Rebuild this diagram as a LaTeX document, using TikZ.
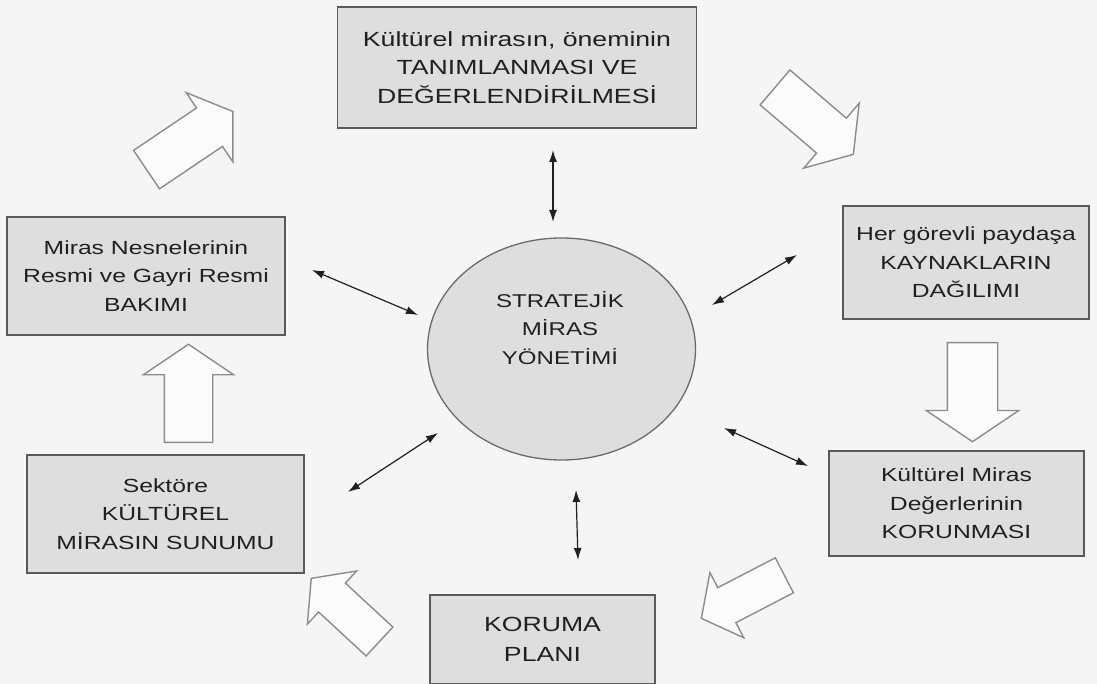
\documentclass[tikz,border=0pt]{standalone}
\usepackage{fontspec}
\setmainfont{Liberation Sans}[FakeStretch=1.3]
\usetikzlibrary{arrows.meta,shapes.geometric,shapes.arrows}
\definecolor{bgcol}{HTML}{F5F5F5}
\definecolor{boxfill}{HTML}{DEDEDE}
\definecolor{boxline}{HTML}{5A5A5A}
\definecolor{arrline}{HTML}{8C8C8C}
\definecolor{txtcol}{HTML}{202020}

\tikzset{
  stage/.style={draw=boxline, line width=1.5pt, fill=boxfill, align=center,
    text=txtcol, inner sep=0pt, font=\fontsize{19}{28.5}\selectfont},
  bigarrow/.style={single arrow, draw=arrline, line width=1.4pt, fill=bgcol!40!white,
    inner xsep=0pt, minimum width=0pt, single arrow tip angle=112, anchor=tail},
  both/.style={{Latex[length=12pt,width=8pt]}-{Latex[length=12pt,width=8pt]}, line width=1.2pt, txtcol}
}

\begin{document}
\begin{tikzpicture}[x=1pt,y=-1pt]
            % Background
            \fill[bgcol] (0,0) rectangle (1097,684);
            \useasboundingbox (0,0) rectangle (1097,684);

            % Center ellipse
            \node[ellipse, draw=boxline!90, line width=1.3pt, fill=boxfill, minimum width=268, minimum height=222] (core) at (561.5,349) {};
            \node[align=center, text=txtcol, font=\fontsize{18.5}{28.5}\selectfont] (coretext) at (560,328) {STRATEJİK\\MİRAS\\YÖNETİMİ};

            % Stage boxes around the center
            \node[stage, font=\fontsize{20.5}{28.5}\selectfont, minimum width=359, minimum height=121] (tanim) at (517,67.5) {Kültürel mirasın, öneminin\\TANIMLANMASI VE\\DEĞERLENDİRİLMESİ};
            \node[stage, minimum width=246, minimum height=113] (kaynak) at (966,262.5) {Her görevli paydaşa\\KAYNAKLARIN\\DAĞILIMI};
            \node[stage, minimum width=255, minimum height=105] (koruma) at (956.5,503.5) {Kültürel Miras\\Değerlerinin\\KORUNMASI};
            \node[stage, font=\fontsize{20.5}{30}\selectfont, minimum width=225, minimum height=89] (plan) at (542.5,639.5) {KORUMA\\PLANI};
            \node[stage, minimum width=277, minimum height=118] (sunum) at (165.5,514) {Sektöre\\KÜLTÜREL\\MİRASIN SUNUMU};
            \node[stage, minimum width=278, minimum height=118] (bakim) at (146,276) {Miras Nesnelerinin\\Resmi ve Gayri Resmi\\BAKIMI};

            % Block arrows of the cycle (placed at their tails)
            \node[bigarrow, inner ysep=22.5, single arrow head extend=18.5, minimum height=104, rotate=34] (ok1) at (146,170) {};
            \node[bigarrow, inner ysep=22.25, single arrow head extend=19.75, minimum height=103, rotate=-40.5] (ok2) at (774.5,87) {};
            \node[bigarrow, inner ysep=24.5, single arrow head extend=21, minimum height=99, rotate=-90] (ok3) at (972.5,342) {};
            \node[bigarrow, inner ysep=19, single arrow head extend=17, minimum height=93.5, rotate=207.4, single arrow tip angle=104] (ok4) at (785,575) {};
            \node[bigarrow, inner ysep=19, single arrow head extend=16.5, minimum height=93, rotate=137.2, single arrow tip angle=104] (ok5) at (380,642) {};
            \node[bigarrow, inner ysep=23.5, single arrow head extend=21, minimum height=98, rotate=90] (ok6) at (188.5,443) {};

            % Ends of the two-way arrows
            \coordinate (a1) at (553,150);  \coordinate (b1) at (553,222);
            \coordinate (a2) at (712,305);  \coordinate (b2) at (797,255);
            \coordinate (a3) at (724,428);  \coordinate (b3) at (808,466);
            \coordinate (a4) at (576,490);  \coordinate (b4) at (578,560);
            \coordinate (a5) at (438,433);  \coordinate (b5) at (348,492);
            \coordinate (a6) at (418,315);  \coordinate (b6) at (312,270);

            % Two-way arrows between center and stages
            \foreach \i in {1,...,6} {
                \draw[both] (a\i) -- (b\i);
            }
        \end{tikzpicture}
\end{document}
